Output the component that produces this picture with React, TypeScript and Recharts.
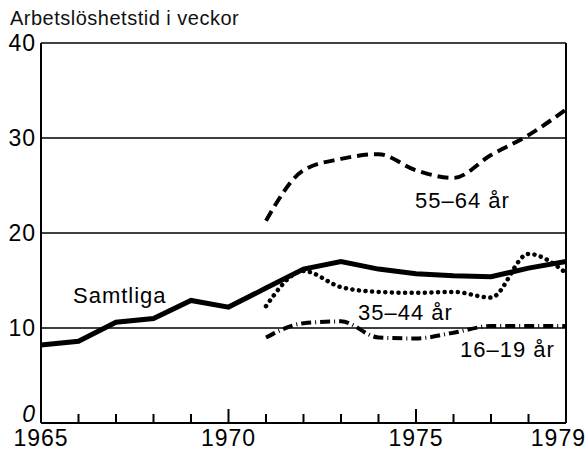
import { LineChart, Line, XAxis, YAxis, CartesianGrid, ReferenceLine } from 'recharts';

const years = [1965, 1966, 1967, 1968, 1969, 1970, 1971, 1972, 1973, 1974, 1975, 1976, 1977, 1978, 1979];
const samtliga = [8.2, 8.6, 10.6, 11.0, 12.9, 12.2, 14.2, 16.2, 17.0, 16.2, 15.7, 15.5, 15.4, 16.3, 17.0];
const age55to64 = [null, null, null, null, null, null, 21.3, 26.6, 27.8, 28.3, 26.6, 25.8, 28.2, 30.3, 33.0];
const age35to44 = [null, null, null, null, null, null, 12.3, 16.0, 14.3, 13.8, 13.7, 13.8, 13.2, 17.8, 15.8];
const age16to19 = [null, null, null, null, null, null, 9.0, 10.5, 10.7, 9.0, 8.9, 9.5, 10.2, 10.2, 10.2];

const labeledYears = [1965, 1970, 1975, 1979];
const yTicks = [0, 10, 20, 30, 40];

const data = years.map((year, i) => ({
  year,
  samtliga: samtliga[i],
  age55to64: age55to64[i],
  age35to44: age35to44[i],
  age16to19: age16to19[i],
}));

const font = '"Liberation Sans", Arial, sans-serif';

function YearTick(props: any) {
  const { x, y, payload } = props;
  const year = payload.value;
  const long = year === 1970 || year === 1975;
  const labeled = labeledYears.includes(year);
  const last = year === 1979;
  return (
    <g>
      <line x1={x} x2={x} y1={y} y2={y - (long ? 14 : 9)} stroke="#000" strokeWidth={2} />
      {labeled && (
        <text
          x={last ? x + 20 : x}
          y={y + 23}
          textAnchor={last ? 'end' : 'middle'}
          fontSize={23}
          fill="#000"
          fontFamily={font}
          letterSpacing={1}
        >
          {year}
        </text>
      )}
    </g>
  );
}

function ValueTick(props: any) {
  const { x, y, payload } = props;
  const zero = payload.value === 0;
  return (
    <text
      x={x}
      y={zero ? y - 1 : y + 8}
      textAnchor="end"
      fontSize={23}
      fill="#000"
      fontFamily={font}
      fontStyle={zero ? 'italic' : 'normal'}
      letterSpacing={1}
    >
      {payload.value}
    </text>
  );
}

const labelStyle: React.CSSProperties = {
  position: 'absolute',
  fontFamily: font,
  fontSize: 22,
  color: '#000',
  letterSpacing: 1,
  lineHeight: 1,
  whiteSpace: 'nowrap',
};

export default function App() {
  return (
    <div style={{ position: 'relative', width: 588, height: 451, background: '#fff' }}>
      <style>{`body{margin:0}`}</style>
      <LineChart width={588} height={451} data={data} margin={{ top: 43, right: 22, bottom: 2, left: 0 }}>
        <CartesianGrid vertical={false} stroke="#000" strokeWidth={1.5} horizontalValues={[10, 20, 30, 40]} />
        <XAxis
          dataKey="year"
          type="number"
          domain={[1965, 1979]}
          ticks={years}
          interval={0}
          height={26}
          tickLine={false}
          tickSize={0}
          tickMargin={0}
          axisLine={{ stroke: '#000', strokeWidth: 2 }}
          tick={<YearTick />}
        />
        <YAxis
          type="number"
          domain={[0, 40]}
          ticks={yTicks}
          width={41}
          tickLine={false}
          tickSize={0}
          tickMargin={5}
          axisLine={{ stroke: '#000', strokeWidth: 2 }}
          tick={<ValueTick />}
        />
        <ReferenceLine x={1979} stroke="#000" strokeWidth={2} />
        <Line dataKey="age55to64" type="monotone" stroke="#000" strokeWidth={4} strokeDasharray="11 6" dot={false} isAnimationActive={false} />
        <Line dataKey="age35to44" type="monotone" stroke="#000" strokeWidth={4.5} strokeDasharray="0.1 6.5" strokeLinecap="round" dot={false} isAnimationActive={false} />
        <Line dataKey="age16to19" type="monotone" stroke="#000" strokeWidth={4} strokeDasharray="10 4 1 4" dot={false} isAnimationActive={false} />
        <Line dataKey="samtliga" type="linear" stroke="#000" strokeWidth={5} dot={false} isAnimationActive={false} />
      </LineChart>
      <div style={{ ...labelStyle, left: 10, top: 8, fontSize: 20, letterSpacing: 0.5, color: '#111' }}>Arbetslöshetstid i veckor</div>
      <div style={{ ...labelStyle, left: 73, top: 285 }}>Samtliga</div>
      <div style={{ ...labelStyle, left: 415, top: 190 }}>55–64 år</div>
      <div style={{ ...labelStyle, left: 358, top: 302 }}>35–44 år</div>
      <div style={{ ...labelStyle, left: 460, top: 339 }}>16–19 år</div>
    </div>
  );
}
